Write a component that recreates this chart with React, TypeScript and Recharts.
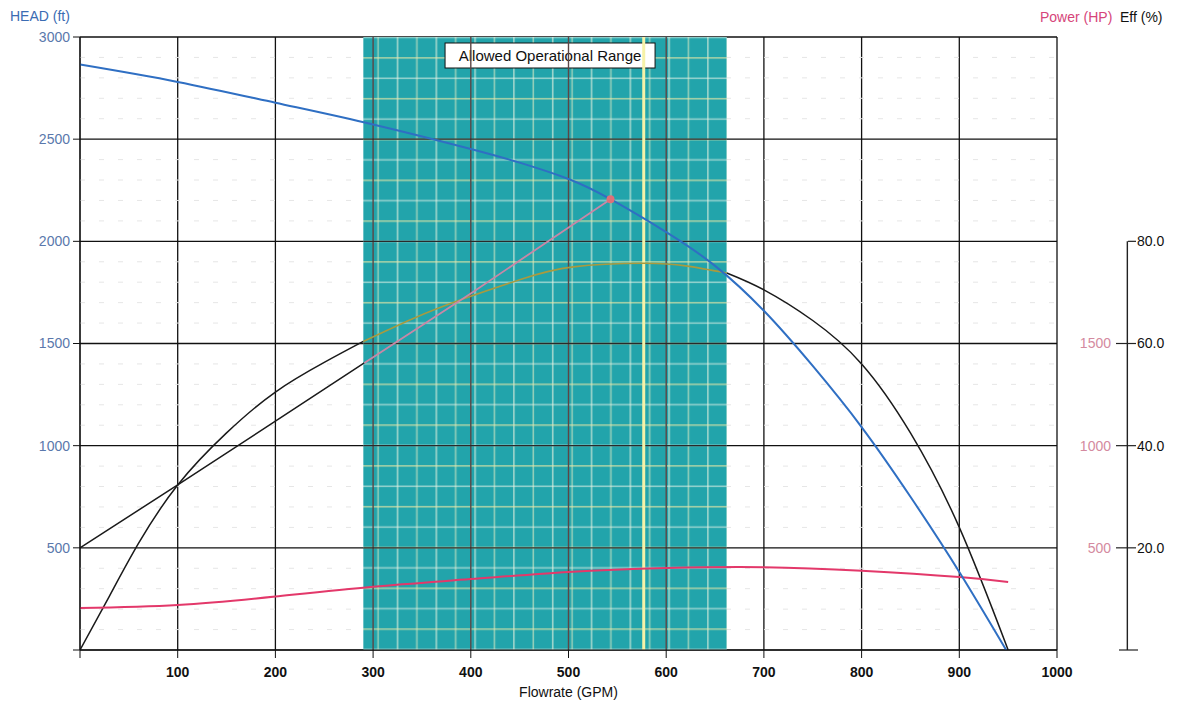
import React from 'react';
import {
  ComposedChart,
  Line,
  XAxis,
  YAxis,
  CartesianGrid,
  ReferenceArea,
  ReferenceLine,
  ReferenceDot,
} from 'recharts';

const FONT = '"Liberation Sans", Arial, Helvetica, sans-serif';

// ---- axes / ticks ----
const flowTicks = [0, 100, 200, 300, 400, 500, 600, 700, 800, 900, 1000];
const headTicks = [0, 500, 1000, 1500, 2000, 2500, 3000];
const headMinor = [100, 200, 300, 400, 600, 700, 800, 900, 1100, 1200, 1300, 1400, 1600, 1700, 1800, 1900, 2100, 2200, 2300, 2400, 2600, 2700, 2800, 2900];
const powerTicks = [500, 1000, 1500];
const effTicks = [0, 20, 40, 60, 80];

// ---- annotations ----
const rangeStart = 290;
const rangeEnd = 662;
const bepFlow = 577;
const dutyFlow = 543;
const dutyHead = 2206;
const effAxisAt = 1072; // eff axis line sits beyond the flow domain
const effAxisTop = 80;

// ---- head curve (ft) ----
const headQ = [0, 100, 200, 300, 400, 450, 500, 543, 600, 650, 700, 750, 800, 850, 900, 948];
const headFt = [2865, 2780, 2678, 2572, 2452, 2385, 2305, 2206, 2045, 1880, 1660, 1390, 1091, 750, 382, 0];

// ---- efficiency curve (%) ----
const effQLeft = [0, 30, 60, 100, 150, 200, 250, 290];
const effLeft = [0, 10.5, 20.9, 32.3, 42.5, 50.5, 56.3, 60.4];
const effQMid = [290, 340, 389, 450, 505, 577, 620, 662];
const effMid = [60.4, 64.8, 68.5, 72.5, 75.0, 75.7, 75.2, 73.8];
const effQRight = [662, 700, 750, 800, 850, 900, 950];
const effRight = [73.8, 70.5, 64.5, 56.0, 42.5, 24.0, 0];

// ---- power curve (HP) ----
const powerQ = [0, 100, 200, 300, 400, 500, 600, 700, 800, 900, 950];
const powerHp = [205, 220, 262, 310, 347, 382, 401, 405, 388, 357, 333];

// ---- system curve (ft) ----
const sysQOut = [0, 100, 200, 291];
const sysOut = [500, 808, 1120, 1405];
const sysQIn = [291, 400, 543];
const sysIn = [1405, 1745, 2206];

const rows = (q: number[], v: number[]) => q.map((x, i) => ({ q: x, v: v[i] }));

const PowerTick = (props: any) => {
  const { x, y, payload } = props;
  return (
    <g>
      <text x={x + 54} y={y} dy="0.35em" textAnchor="end" fill="#d48aa0" fontSize={14} fontFamily={FONT}>
        {payload.value}
      </text>
      <line x1={x + 59} x2={x + 71} y1={y} y2={y} stroke="#222" strokeWidth={1.2} />
    </g>
  );
};

const EffTick = (props: any) => {
  const { x, y, payload } = props;
  const zero = payload.value === 0;
  return (
    <g>
      <line x1={zero ? x - 9 : x} x2={zero ? x + 10 : x + 8} y1={y} y2={y} stroke="#222" strokeWidth={1.2} />
      {!zero && (
        <text x={x + 9} y={y} dy="0.35em" textAnchor="start" fill="#111" fontSize={14} fontFamily={FONT}>
          {payload.value.toFixed(1)}
        </text>
      )}
    </g>
  );
};

const RangeLabel = (props: any) => {
  const vb = props.viewBox || {};
  const cx = vb.x + vb.width / 2 + 5;
  const top = vb.y + 6;
  return (
    <g>
      <rect x={cx - 105} y={top} width={210} height={25} fill="#fff" stroke="#111" strokeWidth={1} />
      <text x={cx} y={top + 13} dy="0.35em" textAnchor="middle" fill="#111" fontSize={15} fontFamily={FONT}>
        Allowed Operational Range
      </text>
    </g>
  );
};

export default function App() {
  const lineCommon = { dot: false, activeDot: false, isAnimationActive: false } as any;
  return (
    <div style={{ position: 'absolute', left: 0, top: 0, width: 1187, height: 709, background: '#fff', fontFamily: FONT }}>
      <svg width={0} height={0} style={{ position: 'absolute' }}>
        <defs>
          <pattern id="opRangeFill" x={8.7} y={16.3} width={38.8} height={40.8} patternUnits="userSpaceOnUse">
            <rect width={38.8} height={40.8} fill="#22a4ab" />
            <rect x={0} y={0} width={1.6} height={40.8} fill="#e4f2de" opacity={0.65} />
            <rect x={19.4} y={0} width={1.6} height={40.8} fill="#eef0c4" opacity={0.55} />
            <rect x={0} y={0} width={38.8} height={1.6} fill="#ece8a4" opacity={0.65} />
            <rect x={0} y={20.4} width={38.8} height={1.6} fill="#e8f3e6" opacity={0.55} />
          </pattern>
        </defs>
      </svg>
      <ComposedChart width={1187} height={709} margin={{ top: 37, right: 0, bottom: 0, left: 0 }}>
        <CartesianGrid yAxisId="head" stroke="#111" strokeWidth={1.3} />
        {headMinor.map((h) => (
          <ReferenceLine key={'m' + h} yAxisId="head" y={h} stroke="#e6e6e6" strokeDasharray="5 14" strokeWidth={1} zIndex={-50} />
        ))}
        <ReferenceArea
          yAxisId="head"
          x1={rangeStart}
          x2={rangeEnd}
          y1={0}
          y2={3000}
          fill="url(#opRangeFill)"
          fillOpacity={1}
          stroke="none"
          label={(p: any) => <RangeLabel {...p} />}
        />
        {flowTicks
          .filter((q) => q > rangeStart && q < rangeEnd)
          .map((q) => (
            <ReferenceLine key={'rv' + q} yAxisId="head" x={q} stroke="#5c4646" strokeWidth={1.4} />
          ))}
        {headTicks
          .filter((h) => h > 0 && h < 3000)
          .map((h) => (
            <ReferenceLine
              key={'rh' + h}
              yAxisId="head"
              segment={[{ x: rangeStart, y: h }, { x: rangeEnd, y: h }]}
              stroke="#2a2a2a"
              strokeWidth={1.4}
            />
          ))}
        <ReferenceLine yAxisId="head" x={bepFlow} stroke="#f6f2a8" strokeWidth={3} />
        <ReferenceLine
          yAxisId="pct"
          segment={[{ x: effAxisAt, y: 0 }, { x: effAxisAt, y: effAxisTop }]}
          stroke="#222"
          strokeWidth={1.4}
          ifOverflow="visible"
        />

        <XAxis
          type="number"
          dataKey="q"
          domain={[0, 1000]}
          ticks={flowTicks}
          allowDataOverflow
          height={59}
          tickSize={8}
          tickMargin={9}
          stroke="#111"
          tickFormatter={(v: number) => (v === 0 ? '' : String(v))}
          tick={{ fill: '#111', fontSize: 14, fontWeight: 'bold', fontFamily: FONT }}
          label={{ value: 'Flowrate (GPM)', position: 'insideBottom', offset: 12, fill: '#111', fontSize: 14, fontFamily: FONT }}
        />
        <YAxis
          yAxisId="head"
          orientation="left"
          width={80}
          domain={[0, 3000]}
          ticks={headTicks}
          allowDataOverflow
          tickSize={7}
          tickMargin={3}
          stroke="#111"
          tickFormatter={(v: number) => (v === 0 ? '' : String(v))}
          tick={{ fill: '#5a78ac', fontSize: 14, fontFamily: FONT }}
        />
        <YAxis
          yAxisId="hp"
          orientation="right"
          width={71}
          domain={[0, 3000]}
          ticks={powerTicks}
          allowDataOverflow
          axisLine={false}
          tickLine={false}
          tickSize={0}
          tickMargin={0}
          tick={<PowerTick />}
        />
        <YAxis
          yAxisId="pct"
          orientation="right"
          width={59}
          domain={[0, 120]}
          ticks={effTicks}
          allowDataOverflow
          axisLine={false}
          tickLine={false}
          tickSize={0}
          tickMargin={0}
          tick={<EffTick />}
        />

        <Line {...lineCommon} yAxisId="pct" data={rows(effQLeft, effLeft)} dataKey="v" type="natural" stroke="#1a1a1a" strokeWidth={1.5} />
        <Line {...lineCommon} yAxisId="pct" data={rows(effQRight, effRight)} dataKey="v" type="natural" stroke="#1a1a1a" strokeWidth={1.5} />
        <Line {...lineCommon} yAxisId="pct" data={rows(effQMid, effMid)} dataKey="v" type="natural" stroke="#a99a3e" strokeWidth={1.6} />
        <Line {...lineCommon} yAxisId="head" data={rows(sysQOut, sysOut)} dataKey="v" type="linear" stroke="#1a1a1a" strokeWidth={1.5} />
        <Line {...lineCommon} yAxisId="head" data={rows(sysQIn, sysIn)} dataKey="v" type="linear" stroke="#c987a6" strokeWidth={1.8} />
        <Line {...lineCommon} yAxisId="hp" data={rows(powerQ, powerHp)} dataKey="v" type="natural" stroke="#e3386a" strokeWidth={2} />
        <Line {...lineCommon} yAxisId="head" data={rows(headQ, headFt)} dataKey="v" type="natural" stroke="#2f6fc3" strokeWidth={2} />
        <ReferenceDot yAxisId="head" x={dutyFlow} y={dutyHead} r={4} fill="#e07078" stroke="none" />
      </ComposedChart>
      <div style={{ position: 'absolute', left: 10, top: 8, fontSize: 14, color: '#3b6cb3', whiteSpace: 'nowrap' }}>HEAD (ft)</div>
      <div style={{ position: 'absolute', left: 1040, top: 9, fontSize: 14, color: '#d6457a', whiteSpace: 'nowrap' }}>Power (HP)</div>
      <div style={{ position: 'absolute', left: 1120, top: 9, fontSize: 14, color: '#111', whiteSpace: 'nowrap' }}>Eff (%)</div>
    </div>
  );
}
